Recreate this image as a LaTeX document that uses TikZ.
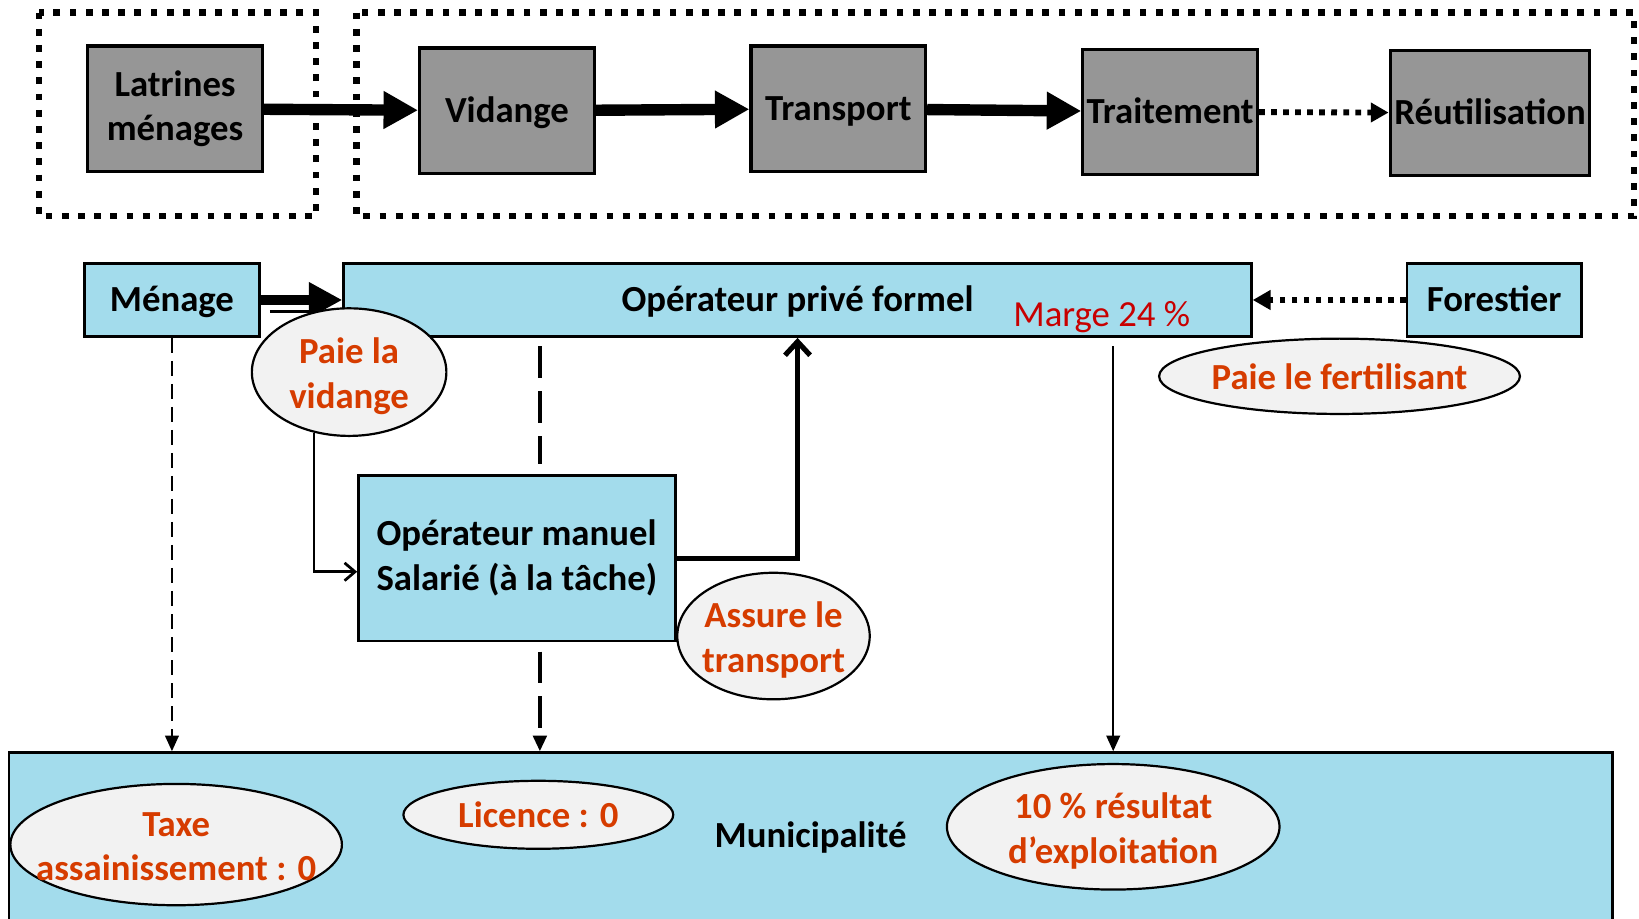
\documentclass[tikz,border=0pt]{standalone}
\usepackage{fontspec}
\setmainfont{Carlito}
\usepackage{tikz}
\usetikzlibrary{arrows.meta,shapes,positioning,calc}

\definecolor{boxgray}{RGB}{150,150,150}
\definecolor{boxblue}{RGB}{163,220,236}
\definecolor{ovalgray}{RGB}{242,242,242}
\definecolor{payred}{RGB}{214,60,0}
\definecolor{margered}{RGB}{200,0,0}

\begin{document}
\begin{tikzpicture}[x=0.01cm, y=-0.01cm,
  every node/.style={font=\fontsize{10}{12.2}\selectfont\bfseries}]

  % Define node styles
  \tikzset{graynode/.style={draw, line width=0.85pt, fill=boxgray, minimum width=1.67cm, minimum height=1.2cm, inner sep=0pt, align=center}}
  \tikzset{bluenode/.style={draw, line width=0.7pt, fill=boxblue, minimum height=0.7cm, inner sep=0pt, align=center}}
  \tikzset{oneline/.style={text height=8.4pt, text depth=2pt}}
  \tikzset{paynode/.style={draw, ellipse, line width=0.6pt, fill=ovalgray, inner sep=0pt}}
  \tikzset{paylabel/.style={text=payred, align=center}}

  % Define line styles
  \tikzset{zone/.style={line width=1.7pt, dash pattern=on 0.065cm off 0.09cm}}
  \tikzset{bigarrow/.style={line width=3.1pt, -{Triangle[length=0.33cm, width=0.34cm]}}}
  \tikzset{dotarrow/.style={line width=1.6pt, dash pattern=on 0.055cm off 0.06cm, -{Triangle[length=0.17cm, width=0.18cm]}}}
  \tikzset{thindash/.style={line width=0.6pt, dash pattern=on 0.14cm off 0.08cm, -{Triangle[length=0.15cm, width=0.13cm]}}}
  \tikzset{thickdash/.style={line width=0.9pt, dash pattern=on 0.3cm off 0.13cm}}
  \tikzset{thinarrow/.style={line width=0.6pt, -{Triangle[length=0.15cm, width=0.13cm]}}}

  \useasboundingbox (0,0) rectangle (1568,879);

  % Chain
  \draw[zone] (37,12) rectangle (302,207);
  \draw[zone] (341,12) rectangle (1563,207);
  \node[graynode] (latrines) at (167.5,104) {Latrines\\ménages};
  \node[graynode, oneline] (vidange) at (485,106) {Vidange};
  \node[graynode, oneline] (transport) at (802,104) {Transport};
  \node[graynode, oneline] (traitement) at (1119.5,107) {Traitement};
  \node[graynode, oneline, minimum width=1.91cm] (reutil) at (1425.5,108) {Réutilisation};
  \draw[bigarrow] (latrines) -- (vidange);
  \draw[bigarrow] (vidange) -- (transport);
  \draw[bigarrow] (transport) -- (traitement);
  \draw[dotarrow] (traitement) -- (reutil);

  % Actors
  \node[bluenode, oneline, minimum width=1.67cm] (menage) at (164.5,287) {Ménage};
  \node[bluenode, oneline, minimum width=8.68cm] (opf) at (763,287) {Opérateur privé formel};
  \node[text=margered, font=\fontsize{10}{12.2}\selectfont] (marge) at (1054,303) {Marge 24 \%};
  \node[bluenode, oneline, minimum width=1.67cm] (forestier) at (1429.5,287) {Forestier};
  \node[bluenode, minimum width=3.03cm, minimum height=1.58cm, align=left] (opm) at (494.5,534) {Opérateur manuel\\Salarié (à la tâche)};
  \node[bluenode, oneline, minimum width=15.33cm, minimum height=1.6cm] (muni) at (775.5,800) {Municipalité};

  % Flows
  \draw[line width=2.85pt, -{Triangle[length=0.32cm, width=0.32cm]}] (menage) -- (opf);
  \draw[line width=0.7pt] ([shift={(9,11)}]menage.east) -- ++(40,0);
  \draw[dotarrow] (forestier) -- (opf);
  \draw[thindash] (menage.south) -- (menage.south |- muni.north);
  \draw[thickdash, shorten <=0.08cm, shorten >=0.1cm] ([shift={(22,0)}]opm.north |- opf.south) -- ([shift={(22,0)}]opm.north);
  \draw[thickdash, shorten <=0.09cm, -{Triangle[length=0.15cm, width=0.13cm]}] ([shift={(22,0)}]opm.south) -- ([shift={(22,0)}]opm.south |- muni.north);
  \draw[line width=1.4pt, -{Straight Barb[length=0.13cm, width=0.24cm]}] (opm.east) -| (opf.south);

  % Payments
  \node[paynode, minimum width=1.86cm, minimum height=1.22cm, label={[paylabel, yshift=-0.04cm]center:Paie la\\vidange}] (vid) at (334,356) {};
  \node[paynode, minimum width=3.45cm, minimum height=0.72cm, label={[paylabel]center:Paie le fertilisant}] (fert) at (1281.5,360) {};
  \node[paynode, minimum width=1.84cm, minimum height=1.21cm, label={[paylabel, yshift=-0.04cm]center:Assure le\\transport}] (assure) at (740,608.5) {};
  \node[paynode, minimum width=3.17cm, minimum height=1.16cm, label={[paylabel, yshift=-0.02cm]center:Taxe\\assainissement : 0}] (taxe) at (168.5,808) {};
  \node[paynode, minimum width=2.58cm, minimum height=0.65cm, label={[paylabel]center:Licence : 0}] (licence) at (515,779.5) {};
  \node[paynode, minimum width=3.18cm, minimum height=1.2cm, label={[paylabel, yshift=-0.04cm]center:10 \% résultat\\d’exploitation}] (resultat) at (1065,791) {};
  \draw[line width=0.75pt, -{Straight Barb[length=0.1cm, width=0.17cm]}] (vid.240) |- ([shift={(0,13)}]opm.west);
  \draw[thinarrow, shorten <=0.08cm] (resultat.north |- opf.south) -- (resultat.north |- muni.north);

\end{tikzpicture}
\end{document}
